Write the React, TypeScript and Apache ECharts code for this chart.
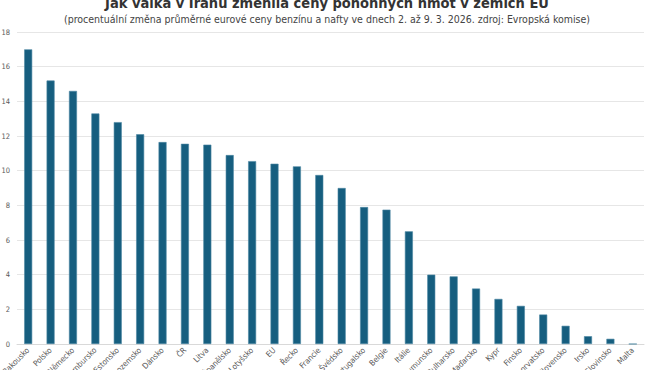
import React, { useEffect, useRef } from "react";
import * as echarts from "echarts";

const titleText = "Jak válka v Íránu změnila ceny pohonných hmot v zemích EU";
const subtitleText =
  "(procentuální změna průměrné eurové ceny benzínu a nafty ve dnech 2. až 9. 3. 2026. zdroj: Evropská komise)";

const countries = [
  "Rakousko", "Polsko", "Německo", "Lucembursko", "Estonsko", "Nizozemsko", "Dánsko",
  "ČR", "Litva", "Španělsko", "Lotyšsko", "EU", "Řecko", "Francie", "Švédsko",
  "Portugalsko", "Belgie", "Itálie", "Rumunsko", "Bulharsko", "Maďarsko", "Kypr",
  "Finsko", "Chorvatsko", "Slovensko", "Irsko", "Slovinsko", "Malta",
];

const changes = [
  17.0, 15.2, 14.6, 13.3, 12.8, 12.1, 11.65, 11.55, 11.5, 10.9, 10.55, 10.4, 10.25, 9.75,
  9.0, 7.9, 7.75, 6.5, 4.0, 3.9, 3.2, 2.6, 2.2, 1.7, 1.05, 0.45, 0.3, 0,
];

const yMin = 0;
const yMax = 18;
const yStep = 2;

export default function App() {
  const ref = useRef<HTMLDivElement>(null);
  useEffect(() => {
    if (!ref.current) return;
    const chart = echarts.init(ref.current, null, { renderer: "svg" });
    const font = "'DejaVu Sans Condensed', 'DejaVu Sans', sans-serif";
    chart.setOption({
      animation: false,
      backgroundColor: "#ffffff",
      textStyle: { fontFamily: font },
      title: [
        {
          text: titleText,
          left: "center",
          top: -10,
          textStyle: { fontSize: 14.5, fontWeight: "bold", color: "#333", fontFamily: font },
        },
        {
          text: subtitleText,
          left: "center",
          top: 8,
          textStyle: { fontSize: 10.5, fontWeight: "normal", color: "#444", fontFamily: font },
        },
      ],
      grid: {
        left: 17,
        right: 10,
        top: 32,
        bottom: 26,
        containLabel: false,
        outerBoundsMode: "none",
      },
      xAxis: {
        type: "category",
        data: countries,
        axisTick: { show: false },
        axisLine: { lineStyle: { color: "#d9d9d9" } },
        axisLabel: {
          interval: 0,
          rotate: 45,
          fontSize: 8,
          color: "#595959",
          margin: 5,
          fontFamily: font,
        },
      },
      yAxis: {
        type: "value",
        min: yMin,
        max: yMax,
        interval: yStep,
        axisLabel: { fontSize: 7.5, color: "#595959", margin: 7, fontFamily: font },
        splitLine: { lineStyle: { color: "#e6e6e6" } },
        axisLine: { show: false },
        axisTick: { show: false },
      },
      series: [
        {
          type: "bar",
          data: changes,
          barWidth: 8,
          itemStyle: { color: "#165e7f", borderColor: "#4c86a2", borderWidth: 0.6 },
        },
      ],
    });
    return () => chart.dispose();
  }, []);
  return (
    <div
      ref={ref}
      style={{ position: "absolute", left: 0, top: 0, width: 654, height: 370 }}
    />
  );
}
